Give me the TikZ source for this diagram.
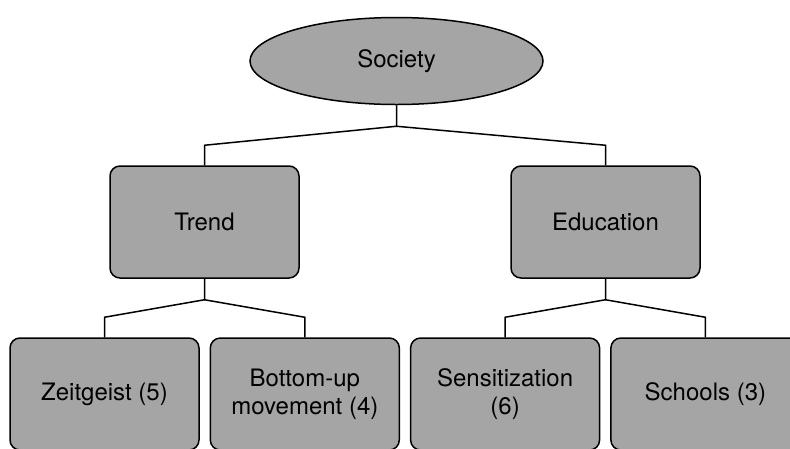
\documentclass[tikz,border=0pt]{standalone}
\usepackage{fontspec}
\setmainfont{TeX Gyre Heros}
\usetikzlibrary{shapes.geometric, calc}
\definecolor{mGray}{HTML}{A5A5A5}

\begin{document}
\begin{tikzpicture}[x=1pt, y=-1pt, line width=1.5pt,
    every node/.style={font=\fontsize{24}{28}\selectfont},
    topic/.style={draw, fill=mGray, rounded corners=10pt, minimum width=189pt,
      minimum height=112pt, align=center}]
    \clip (0,0) rectangle (790,448);
    \node[draw, fill=mGray, ellipse, minimum width=293pt, minimum height=87pt] (soc) at (396.5,61) {Society};
    \node[topic] (trend) at (204.5,222) {Trend};
    \node[topic] (edu) at (605.5,222) {Education};
    \foreach \lbl [count=\i from 0] in {Zeitgeist (5), Bottom-up\\movement (4), Sensitization\\(6), Schools (3)} {
      \node[topic] (leaf\i) at (104.5+\i*200.3,394) {\lbl};
    }
    % tree connectors
    \foreach \p/\a/\b in {soc/trend/edu, trend/leaf0/leaf1, edu/leaf2/leaf3} {
      \coordinate (\p-j) at ($(\p.south)+(0,21)$);
      \draw (\p.south) -- (\p-j) -- ($(\a.north)+(0,-20)$) -- (\a.north);
      \draw (\p-j) -- ($(\b.north)+(0,-20)$) -- (\b.north);
    }
\end{tikzpicture}
\end{document}
